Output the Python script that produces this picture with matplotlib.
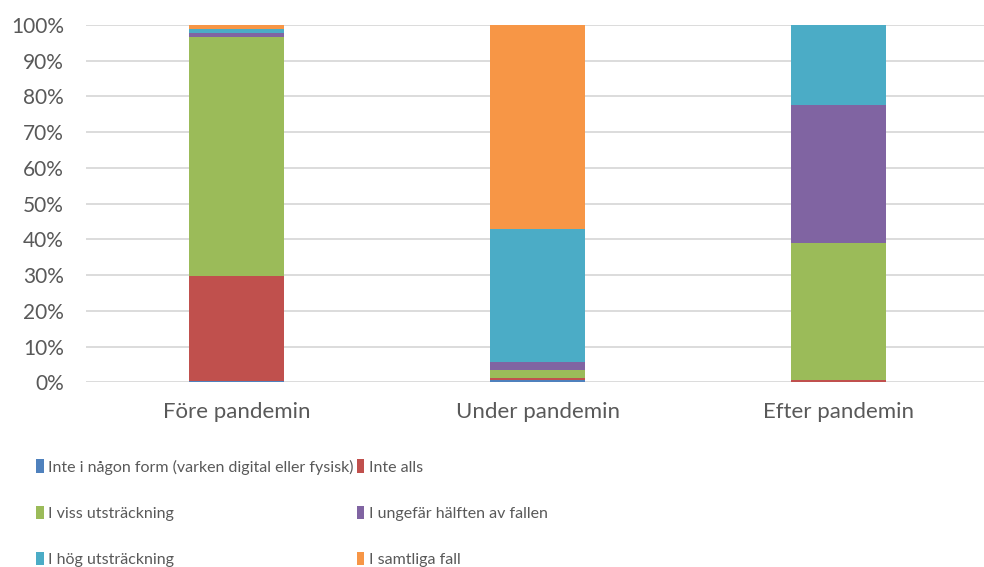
import numpy as np
from matplotlib import pyplot as plt
from matplotlib.ticker import PercentFormatter

categories = ["Före pandemin", "Under pandemin", "Efter pandemin"]

series_names = [
    "Inte i någon form (varken digital eller fysisk)",
    "Inte alls",
    "I viss utsträckning",
    "I ungefär hälften av fallen",
    "I hög utsträckning",
    "I samtliga fall",
]
series_colors = ["#4F81BD", "#C0504D", "#9BBB59", "#8064A2", "#4BACC6", "#F79646"]

# percentages per category
inte_i_nagon_form = [0.5, 0.6, 0.0]
inte_alls = [29.3, 0.5, 0.6]
i_viss = [66.9, 2.3, 38.3]
i_ungefar_halften = [1.1, 2.2, 38.7]
i_hog = [1.1, 37.4, 22.4]
i_samtliga = [1.1, 57.0, 0.0]

values = [inte_i_nagon_form, inte_alls, i_viss, i_ungefar_halften, i_hog, i_samtliga]

plt.rcParams['font.family'] = ['Lato', 'DejaVu Sans']
text_color = "#595959"

fig = plt.figure(figsize=(9.84, 5.67), dpi=100)
ax = fig.add_axes([86/984, 1 - 382.3/567, 903/984, 357.3/567])

x = np.arange(len(categories))
bottom = np.zeros(len(categories))
bars = []
for name, color, vals in zip(series_names, series_colors, values):
    b = ax.bar(x, vals, width=0.316, bottom=bottom, color=color, label=name, zorder=3)
    bars.append(b)
    bottom += np.array(vals)

ax.set_xlim(-0.5, len(categories) - 0.5)
ax.set_ylim(0, 100)
ax.set_yticks(np.arange(0, 101, 10))
ax.yaxis.set_major_formatter(PercentFormatter(decimals=0))
ax.set_xticks(x)
ax.set_xticklabels(categories)
ax.tick_params(axis='both', length=0, colors=text_color)
ax.tick_params(axis='y', pad=16, labelsize=15)
ax.tick_params(axis='x', pad=14, labelsize=16)
ax.grid(axis='y', color="#d9d9d9", linewidth=1.3, zorder=0)
for s in ax.spines.values():
    s.set_visible(False)

# legend fills column-wise, reorder so rows read like the reference
order = [0, 2, 4, 1, 3, 5]
leg = fig.legend([bars[i] for i in order], [series_names[i] for i in order],
                 ncol=2, loc='upper left', bbox_to_anchor=(30/984, 1 - 453/567),
                 frameon=False, fontsize=11.5, labelcolor=text_color,
                 handlelength=0.45, handleheight=0.9, handletextpad=0.3,
                 columnspacing=0.2, labelspacing=1.95, borderaxespad=0)

fig.savefig("out.png", dpi=100)
